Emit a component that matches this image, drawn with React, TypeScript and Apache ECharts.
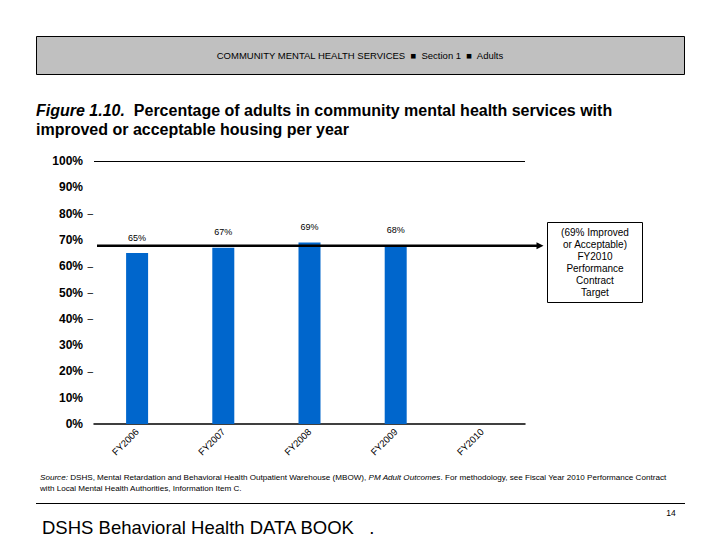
import React, { useEffect, useRef } from "react";
import * as echarts from "echarts";

const categories = ["FY2006", "FY2007", "FY2008", "FY2009", "FY2010"];
const values: (number | null)[] = [65, 67, 69, 68, null];
const targetValue = 67.8;
const dashedTicks = [20, 40, 50, 60, 80];
const targetBoxLines = ["(69% Improved", "or Acceptable)", "FY2010", "Performance", "Contract", "Target"];
const headerText = "COMMUNITY MENTAL HEALTH SERVICES  \u25A0  Section 1  \u25A0  Adults";
const FONT = "'Liberation Sans', Arial, sans-serif";

export default function App() {
  const ref = useRef<HTMLDivElement>(null);
  useEffect(() => {
    document.body.style.margin = "0";
    const chart = echarts.init(ref.current!, null, { renderer: "svg" });
    const option: any = {
      animation: false,
      backgroundColor: "#ffffff",
      textStyle: { fontFamily: FONT },
      grid: [
        { left: 94, right: 195, top: 161, bottom: 116 },
        { left: 97, right: 180, top: 161, bottom: 116 },
      ],
      xAxis: [
        {
          type: "category",
          gridIndex: 0,
          data: categories,
          axisLine: { show: true, lineStyle: { color: "#000", width: 1.5 } },
          axisTick: { show: false },
          axisLabel: { rotate: 45, fontSize: 9.5, color: "#000", fontFamily: FONT, margin: 6 },
        },
        { type: "value", gridIndex: 1, min: 0, max: 1, show: false },
      ],
      yAxis: [
        {
          type: "value",
          gridIndex: 0,
          min: 0,
          max: 100,
          interval: 10,
          axisLine: { show: false },
          axisTick: { show: false },
          splitLine: { show: false },
          axisLabel: {
            margin: 1,
            formatter: (v: number) =>
              dashedTicks.indexOf(v) >= 0 ? `{v|${v}%}{d|\u2013}` : `{v|${v}%}{d| }`,
            rich: {
              v: { fontSize: 12, fontWeight: "bold", color: "#000", fontFamily: FONT },
              d: { fontSize: 10, width: 10, align: "right", color: "#000", fontFamily: FONT },
            },
          },
        },
        { type: "value", gridIndex: 1, min: 0, max: 100, show: false },
      ],
      series: [
        {
          type: "bar",
          xAxisIndex: 0,
          yAxisIndex: 0,
          data: values,
          barWidth: 22,
          itemStyle: { color: "#0066cc" },
          label: {
            show: true,
            position: "top",
            distance: 11,
            formatter: "{c}%",
            fontSize: 9,
            color: "#000",
            fontFamily: FONT,
          },
          markLine: {
            silent: true,
            symbol: ["none", "none"],
            label: { show: false },
            lineStyle: { color: "#000", width: 1, type: "solid" },
            data: [{ yAxis: 100 }],
          },
          z: 2,
        },
        {
          type: "line",
          xAxisIndex: 1,
          yAxisIndex: 1,
          z: 5,
          lineStyle: { color: "#000", width: 2.5 },
          itemStyle: { color: "#000" },
          showSymbol: true,
          data: [
            { value: [0, targetValue], symbol: "none" },
            { value: [1, targetValue], symbol: "triangle", symbolRotate: -90, symbolSize: 7 },
          ],
        },
      ],
      graphic: [
        {
          type: "rect",
          shape: { x: 36.5, y: 36.5, width: 648, height: 38 },
          style: { fill: "#c0c0c0", stroke: "#000", lineWidth: 1 },
        },
        {
          type: "text",
          x: 360,
          y: 55,
          style: {
            text: headerText,
            fontSize: 9.5,
            fontFamily: FONT,
            fill: "#000",
            align: "center",
            verticalAlign: "middle",
          },
        },
        {
          type: "text",
          x: 36,
          y: 101,
          style: {
            text:
              "{i|Figure 1.10.}{b|  Percentage of adults in community mental health services with}\n{b|improved or acceptable housing per year}",
            rich: {
              i: { fontSize: 16, fontWeight: "bold", fontStyle: "italic", fontFamily: FONT, fill: "#000", lineHeight: 19 },
              b: { fontSize: 16, fontWeight: "bold", fontFamily: FONT, fill: "#000", lineHeight: 19 },
            },
            verticalAlign: "top",
          },
        },
        {
          type: "rect",
          shape: { x: 547.5, y: 222.5, width: 95, height: 80 },
          style: { fill: "#fff", stroke: "#000", lineWidth: 1 },
        },
        {
          type: "text",
          x: 595,
          y: 226,
          style: {
            text: targetBoxLines.join("\n"),
            fontSize: 10,
            lineHeight: 12,
            fontFamily: FONT,
            fill: "#000",
            align: "center",
            verticalAlign: "top",
          },
        },
        {
          type: "text",
          x: 40,
          y: 472,
          style: {
            text:
              "{i|Source:}{n| DSHS, Mental Retardation and Behavioral Health Outpatient Warehouse (MBOW), }{i|PM Adult Outcomes}{n|. For methodology, see Fiscal Year 2010 Performance Contract}\n{n|with Local Mental Health Authorities, Information Item C.}",
            rich: {
              i: { fontSize: 8.1, fontStyle: "italic", fontFamily: FONT, fill: "#000", lineHeight: 11 },
              n: { fontSize: 8.1, fontFamily: FONT, fill: "#000", lineHeight: 11 },
            },
            verticalAlign: "top",
          },
        },
        {
          type: "line",
          shape: { x1: 36, y1: 503.5, x2: 685, y2: 503.5 },
          style: { stroke: "#000", lineWidth: 1 },
        },
        {
          type: "text",
          x: 671,
          y: 513,
          style: { text: "14", fontSize: 8.5, fontFamily: FONT, fill: "#000", align: "center", verticalAlign: "middle" },
        },
        {
          type: "text",
          x: 42,
          y: 527,
          style: {
            text: "DSHS Behavioral Health DATA BOOK   .",
            fontSize: 18.5,
            fontFamily: FONT,
            fill: "#000",
            verticalAlign: "middle",
          },
        },
      ],
    };
    chart.setOption(option);
    return () => chart.dispose();
  }, []);
  return <div ref={ref} style={{ position: "fixed", left: 0, top: 0, width: 720, height: 540 }} />;
}
